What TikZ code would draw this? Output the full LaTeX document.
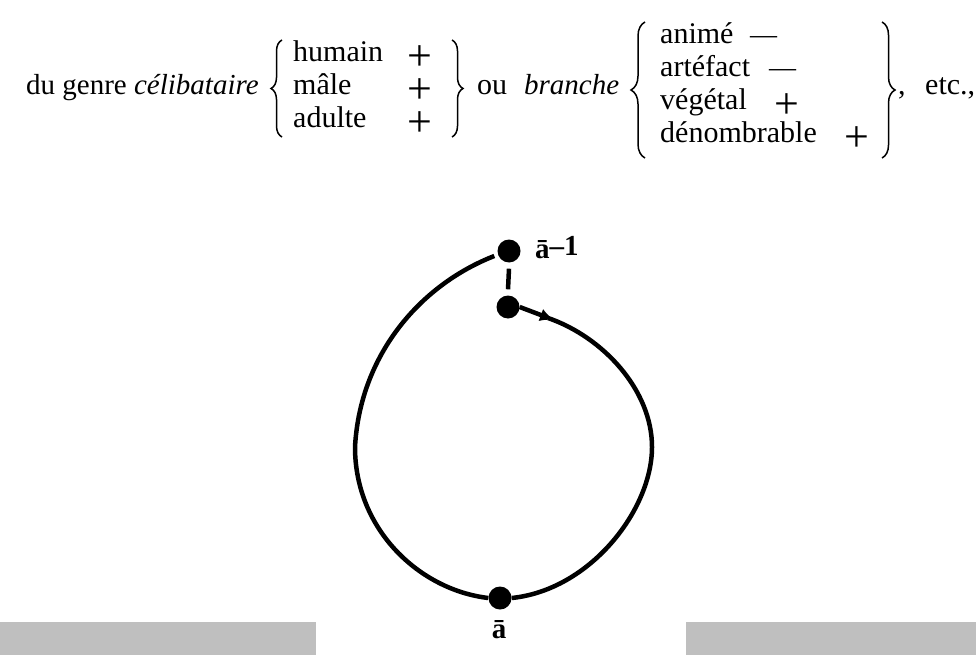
\documentclass[tikz,border=0pt]{standalone}
\usepackage{fontspec}
\setmainfont{Liberation Serif}
\usetikzlibrary{decorations.pathreplacing,arrows.meta}
\tikzset{
  txt/.style={anchor=base west,inner sep=0pt,font=\fontsize{30}{33}\selectfont},
  sym/.style={anchor=base,inner sep=0pt,text height=23pt,text depth=0pt,font=\fontsize{44}{44}\selectfont},
  dsh/.style={anchor=base west,inner sep=0pt,font=\fontsize{27}{27}\selectfont},
  brc/.style={decorate,decoration={brace,amplitude=#1},line width=1.5pt},
  dotn/.style={circle,fill=black,inner sep=0pt,minimum size=23pt},
  arc/.style={line width=4.5pt},
  lbl/.style={inner sep=0pt,font=\fontsize{29}{29}\selectfont\bfseries},
  graybar/.style={fill=black!25,draw=none}
}
\begin{document}
\begin{tikzpicture}[x=1pt,y=-1pt]
\useasboundingbox (0,0) rectangle (976,655);
% --- text line ---
\node[txt,font=\fontsize{29}{33}\selectfont] (t1) at (26,95) {du genre \textit{célibataire}};
\draw[brc=11pt] (282,137) -- (282,40);
\node[txt] (h) at (293,62) {humain};
\node[txt] (m) at (293,95) {mâle};
\node[txt] (ad) at (293,128) {adulte};
\node[sym] (p1) at (420,71) {+};
\node[sym] (p2) at (420,104) {+};
\node[sym] (p3) at (420,137) {+};
\draw[brc=11pt] (452,40) -- (452,137);
\node[txt] (ou) at (477,95) {ou};
\node[txt,font=\fontsize{29}{33}\selectfont] (br) at (524,95) {\textit{branche}};
\draw[brc=14pt] (645,158) -- (645,22);
\node[txt] (an) at (660,44) {animé};
\node[txt] (ar) at (660,77) {artéfact};
\node[txt] (ve) at (660,110) {végétal};
\node[txt] (de) at (660,143) {dénombrable};
\node[dsh] (d1) at (750,44) {—};
\node[dsh] (d2) at (769,77) {—};
\node[sym] (p4) at (787,119) {+};
\node[sym] (p5) at (857,152) {+};
\draw[brc=13pt] (882,22) -- (882,158);
\node[txt] (cm) at (898,95) {,};
\node[txt] (etc) at (925,95) {etc.,};
% --- diagram ---
\node[dotn] (A1) at (509,251) {};
\node[dotn] (A2) at (508,307) {};
\node[dotn] (A0) at (500,598) {};
\node[lbl,anchor=west] (L1) at (535,248) {\=a\raisebox{3pt}{–1}};
\node[lbl,anchor=north] (L0) at (499,620) {\=a};
\path (A1.south) ++(0,6) coordinate (s1) (A2.north) ++(0,-6) coordinate (s2);
\draw[line width=4.5pt] (s1) -- (s2);
\coordinate (T) at (554,320);
\draw[arc,-{Latex[length=14pt,width=13pt]}] (A2.east) -- (T);
\draw[arc] (548,318) .. controls (603,337) and (652,390) .. (652,447)
  .. controls (652,510) and (590,590) .. (A0.east);
\path (A1.west) ++(-3,5) coordinate (s3);
\draw[arc] (s3) .. controls (420,285) and (360,355) .. (355,447)
  .. controls (355,530) and (420,590) .. (A0.west);
% --- gray bars ---
\fill[graybar] (0,622) rectangle (316,655);
\fill[graybar] (686,622) rectangle (976,655);
\end{tikzpicture}
\end{document}
